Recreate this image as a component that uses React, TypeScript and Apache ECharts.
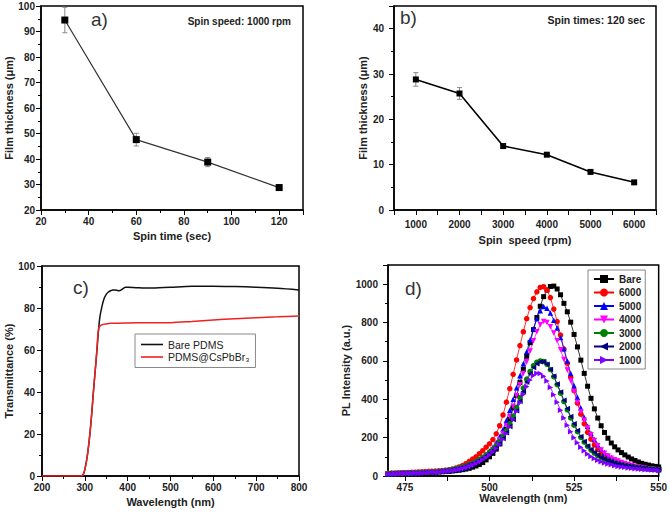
import React, { useEffect, useRef } from "react";
import * as echarts from "echarts";

// Panel a: spin time vs thickness (1000 rpm)
const spinTime = [30, 60, 90, 120];
const thickA = [94.5, 47.6, 38.8, 28.8];
const errA = [5, 2.5, 1.8, 1.0];

// Panel b: spin speed vs thickness (120 s)
const spinSpeed = [1000, 2000, 3000, 4000, 5000, 6000];
const thickB = [28.8, 25.7, 14.1, 12.2, 8.4, 6.1];
const errB = [1.5, 1.3, 0.5, 0.3, 0.2, 0.2];

// Panel c: transmittance
const wlBare = [200, 250, 290, 295, 298, 300, 305, 310, 315, 320, 325, 328, 331, 335, 340, 345, 350, 355, 360, 365, 370, 375, 380, 385, 390, 395, 400, 420, 450, 500, 550, 600, 650, 700, 750, 800];
const tBare = [0, 0, 0, 0.3, 1.5, 3, 8.5, 16.5, 27, 40, 52, 59, 67, 75.5, 80.8, 84.5, 86.5, 87.6, 88.2, 88.6, 88.6, 88.4, 88.2, 88.6, 89.4, 89.9, 89.9, 89.7, 89.5, 89.9, 90.3, 90.4, 90.2, 89.9, 89.4, 88.6];
const wlPqd = [200, 250, 290, 295, 298, 300, 305, 310, 315, 320, 325, 328, 331, 333, 336, 340, 350, 360, 400, 450, 500, 550, 600, 650, 700, 750, 800];
const tPqd = [0, 0, 0, 0.3, 1.5, 3, 8.5, 16.5, 27, 40, 52, 60, 68.5, 70.8, 71.5, 72, 72.4, 72.7, 72.9, 73, 73, 73.6, 74.3, 74.9, 75.4, 75.8, 76.2];

// Panel d: PL spectra
const wlPL = [
  470, 471, 472, 473, 474, 475, 476, 477, 478, 479,
  480, 481, 482, 483, 484, 485, 486, 487, 488, 489,
  490, 491, 492, 493, 494, 495, 496, 497, 498, 499,
  500, 501, 502, 503, 504, 505, 506, 507, 508, 509,
  510, 511, 512, 513, 514, 515, 516, 517, 518, 519,
  520, 521, 522, 523, 524, 525, 526, 527, 528, 529,
  530, 531, 532, 533, 534, 535, 536, 537, 538, 539,
  540, 541, 542, 543, 544, 545, 546, 547, 548, 549, 550,
];
const plBare = [
  12, 12, 13, 13, 14, 14, 15, 15, 15, 16,
  16, 17, 18, 19, 20, 21, 22, 23, 24, 26,
  28, 30, 33, 36, 40, 46, 52, 60, 70, 84,
  100, 118, 140, 167, 203, 243, 295, 355, 420, 487,
  555, 625, 695, 763, 826, 885, 935, 970, 988, 990,
  975, 945, 900, 856, 802, 738, 673, 604, 535, 468,
  405, 350, 302, 262, 227, 197, 172, 152, 136, 122,
  110, 99, 89, 81, 73, 66, 61, 57, 53, 50, 47,
];
const pl6000 = [
  14, 15, 15, 16, 17, 17, 18, 19, 20, 21,
  22, 23, 24, 25, 26, 27, 28, 30, 32, 36,
  41, 47, 54, 64, 76, 88, 100, 116, 132, 150,
  168, 190, 220, 262, 318, 385, 455, 530, 605, 680,
  752, 820, 878, 925, 960, 983, 987, 968, 930, 870,
  805, 735, 662, 588, 515, 445, 380, 322, 272, 228,
  192, 162, 138, 118, 106, 96, 88, 80, 73, 67,
  62, 57, 53, 49, 46, 43, 40, 38, 36, 34, 32,
];
const pl5000 = [
  12, 13, 13, 14, 14, 15, 15, 16, 17, 17,
  18, 19, 20, 21, 22, 23, 25, 27, 29, 31,
  34, 37, 41, 47, 54, 62, 72, 83, 97, 112,
  130, 150, 175, 205, 243, 290, 343, 400, 460, 522,
  585, 648, 710, 768, 820, 862, 884, 875, 850, 812,
  772, 722, 663, 600, 535, 470, 410, 355, 305, 260,
  222, 190, 163, 140, 122, 108, 96, 86, 78, 71,
  65, 60, 55, 51, 48, 45, 42, 40, 37, 35, 33,
];
const pl4000 = [
  12, 12, 13, 13, 14, 14, 15, 15, 16, 16,
  17, 18, 19, 20, 21, 22, 23, 25, 27, 29,
  32, 35, 39, 44, 50, 57, 66, 76, 88, 102,
  118, 137, 160, 188, 222, 263, 310, 362, 418, 476,
  535, 595, 652, 705, 752, 788, 805, 800, 778, 745,
  705, 658, 607, 552, 496, 440, 385, 335, 290, 250,
  215, 185, 158, 136, 118, 104, 93, 85, 78, 71,
  65, 60, 55, 51, 47, 44, 41, 38, 36, 34, 32,
];
const pl3000 = [
  13, 13, 13, 14, 14, 15, 15, 16, 16, 17,
  18, 19, 20, 21, 22, 24, 26, 28, 31, 34,
  38, 42, 47, 53, 60, 67, 76, 86, 97, 110,
  124, 140, 158, 180, 206, 237, 272, 312, 358, 408,
  458, 505, 545, 575, 593, 600, 597, 582, 555, 518,
  476, 432, 388, 345, 303, 265, 231, 201, 176, 154,
  135, 119, 106, 95, 86, 79, 73, 67, 62, 58,
  54, 51, 48, 45, 43, 41, 39, 37, 36, 34, 33,
];
const pl2000 = [
  12, 12, 13, 13, 14, 14, 15, 15, 16, 16,
  17, 18, 19, 20, 21, 23, 25, 27, 30, 33,
  37, 41, 46, 52, 58, 65, 73, 82, 93, 105,
  118, 133, 150, 170, 195, 225, 258, 295, 340, 390,
  440, 490, 533, 565, 585, 595, 595, 582, 555, 520,
  480, 438, 395, 352, 310, 272, 237, 206, 180, 157,
  138, 122, 108, 97, 88, 80, 74, 68, 63, 59,
  55, 52, 49, 46, 44, 42, 40, 38, 36, 35, 34,
];
const pl1000 = [
  11, 11, 12, 12, 13, 13, 14, 14, 15, 15,
  16, 17, 18, 19, 20, 21, 23, 25, 27, 30,
  33, 37, 41, 46, 52, 58, 66, 75, 85, 97,
  110, 125, 143, 165, 192, 222, 257, 296, 338, 382,
  425, 465, 500, 524, 536, 534, 520, 495, 462, 424,
  384, 343, 303, 265, 231, 200, 173, 150, 131, 115,
  102, 91, 82, 74, 68, 63, 58, 54, 50, 47,
  45, 42, 40, 38, 36, 35, 33, 32, 31, 30, 29,
];

const plNames = ["Bare", "6000", "5000", "4000", "3000", "2000", "1000"];
const plData = [plBare, pl6000, pl5000, pl4000, pl3000, pl2000, pl1000];
const plColors = ["#000000", "#ff0000", "#0000ff", "#ff00ff", "#008000", "#000080", "#8000ff"];
const plSymbols = [
  "rect",
  "circle",
  "triangle",
  "path://M0,0 L10,0 L5,10 Z",
  "circle",
  "path://M10,0 L10,10 L0,5 Z",
  "path://M0,0 L10,5 L0,10 Z",
];

const FONT = "Liberation Sans, Arial, sans-serif";
const LINE_ICON = "path://M0,0 L22,0 L22,1.6 L0,1.6 Z";

function pairs(xs: number[], ys: number[]) {
  return xs.map((x, i) => [x, ys[i]]);
}

function errData(xs: number[], ys: number[], es: number[]) {
  return xs.map((x, i) => [x, ys[i] - es[i], ys[i] + es[i]]);
}

function errorRender(params: any, api: any) {
  const x = api.value(0);
  const lo = api.coord([x, api.value(1)]);
  const hi = api.coord([x, api.value(2)]);
  const cw = 2.5;
  const st = { stroke: "#8a8a8a", lineWidth: 1 };
  return {
    type: "group",
    children: [
      { type: "line", shape: { x1: lo[0], y1: lo[1], x2: hi[0], y2: hi[1] }, style: st },
      { type: "line", shape: { x1: lo[0] - cw, y1: lo[1], x2: lo[0] + cw, y2: lo[1] }, style: st },
      { type: "line", shape: { x1: hi[0] - cw, y1: hi[1], x2: hi[0] + cw, y2: hi[1] }, style: st },
    ],
  };
}

const fmt = (v: number) => String(v);

function label(margin: number, extra: any = {}) {
  return { fontFamily: FONT, fontWeight: "bold", fontSize: 10, color: "#222", margin, formatter: fmt, ...extra };
}

function axisBase(gridIndex: number, name: string, nameGap: number, labelMargin: number, extra: any) {
  return {
    type: "value",
    gridIndex,
    name,
    nameLocation: "middle",
    nameGap,
    nameTextStyle: { fontFamily: FONT, fontWeight: "bold", fontSize: 11, color: "#222" },
    axisLine: { show: true, onZero: false, lineStyle: { color: "#000", width: 1.5 } },
    axisTick: { show: true, inside: false, length: 5, lineStyle: { color: "#000", width: 1 } },
    minorTick: { show: true, splitNumber: 2, length: 3, lineStyle: { color: "#000", width: 1 } },
    splitLine: { show: false },
    axisLabel: label(labelMargin),
    ...extra,
  };
}

export default function App() {
  const ref = useRef<HTMLDivElement>(null);
  useEffect(() => {
    if (!ref.current) return;
    const chart = echarts.init(ref.current, null, { renderer: "svg" });
    const gridStyle = { show: true, borderColor: "#000", borderWidth: 1.5, backgroundColor: "#fff", containLabel: false };
    const option: any = {
      animation: false,
      backgroundColor: "#fff",
      grid: [
        { left: 41, top: 6, width: 262, height: 204, ...gridStyle },
        { left: 394, top: 6, width: 262, height: 204, ...gridStyle },
        { left: 42, top: 266, width: 257, height: 210, ...gridStyle },
        { left: 388, top: 265, width: 272, height: 211, ...gridStyle },
      ],
      xAxis: [
        axisBase(0, "Spin time (sec)", 20, 5, {
          min: 20, max: 130, interval: 20,
          axisLabel: label(6, { showMaxLabel: false }),
        }),
        axisBase(1, "Spin  speed (rpm)", 24, 9, {
          min: 500, max: 6500,
          axisLabel: label(9, { customValues: spinSpeed }),
          axisTick: { show: true, length: 5, lineStyle: { color: "#000" }, customValues: [500, 1000, 1500, 2000, 2500, 3000, 3500, 4000, 4500, 5000, 5500, 6000, 6500] },
          minorTick: { show: false },
        }),
        axisBase(2, "Wavelength (nm)", 20, 6, { min: 200, max: 800, interval: 100 }),
        axisBase(3, "Wavelength (nm)", 15, 6, {
          min: 470, max: 550,
          axisLabel: label(6, { customValues: [475, 500, 525, 550] }),
          axisTick: { show: true, length: 5, lineStyle: { color: "#000" }, customValues: [475, 487.5, 500, 512.5, 525, 537.5, 550] },
          minorTick: { show: false },
        }),
      ],
      yAxis: [
        axisBase(0, "Film thickness (μm)", 24, 6, { min: 20, max: 100, interval: 10 }),
        axisBase(1, "Film thickness (μm)", 22, 10, {
          min: 0, max: 45, interval: 10,
          axisLabel: label(10, { showMaxLabel: false }),
        }),
        axisBase(2, "Transmittance (%)", 24, 7, { min: 0, max: 100, interval: 20 }),
        axisBase(3, "PL Intensity (a.u.)", 30, 10, {
          min: 0, max: 1100, interval: 200,
          axisLabel: label(10, { showMaxLabel: false }),
        }),
      ],
      legend: [
        {
          data: [
            { name: "Bare PDMS", icon: LINE_ICON },
            { name: "PDMS@CsPbBr₃", icon: LINE_ICON },
          ],
          orient: "vertical",
          left: 135,
          top: 334,
          padding: [5, 6, 5, 6],
          itemGap: 1.5,
          itemWidth: 22,
          itemHeight: 10,
          borderColor: "#888",
          borderWidth: 1,
          backgroundColor: "#fff",
          textStyle: { fontFamily: FONT, fontSize: 10.5, color: "#222" },
        },
        {
          data: plNames,
          orient: "vertical",
          left: 588,
          top: 270,
          padding: [4, 4, 4, 5],
          itemGap: 3.5,
          itemWidth: 20,
          itemHeight: 10,
          borderColor: "#888",
          borderWidth: 1,
          backgroundColor: "#fff",
          textStyle: { fontFamily: FONT, fontSize: 10, fontWeight: "bold", color: "#222" },
        },
      ],
      series: [
        {
          name: "a",
          type: "line",
          xAxisIndex: 0,
          yAxisIndex: 0,
          data: pairs(spinTime, thickA),
          symbol: "rect",
          symbolSize: 7,
          lineStyle: { color: "#333", width: 1.2 },
          itemStyle: { color: "#000" },
          z: 3,
        },
        {
          name: "aErr",
          type: "custom",
          xAxisIndex: 0,
          yAxisIndex: 0,
          data: errData(spinTime, thickA, errA),
          encode: { x: 0, y: [1, 2] },
          renderItem: errorRender,
          z: 2,
        },
        {
          name: "b",
          type: "line",
          xAxisIndex: 1,
          yAxisIndex: 1,
          data: pairs(spinSpeed, thickB),
          symbol: "rect",
          symbolSize: 6,
          lineStyle: { color: "#000", width: 1.6 },
          itemStyle: { color: "#000" },
          z: 3,
        },
        {
          name: "bErr",
          type: "custom",
          xAxisIndex: 1,
          yAxisIndex: 1,
          data: errData(spinSpeed, thickB, errB),
          encode: { x: 0, y: [1, 2] },
          renderItem: errorRender,
          z: 2,
        },
        {
          name: "Bare PDMS",
          type: "line",
          xAxisIndex: 2,
          yAxisIndex: 2,
          data: pairs(wlBare, tBare),
          symbol: "none",
          smooth: 0.3,
          lineStyle: { color: "#111", width: 1.5 },
          itemStyle: { color: "#111" },
        },
        {
          name: "PDMS@CsPbBr₃",
          type: "line",
          xAxisIndex: 2,
          yAxisIndex: 2,
          data: pairs(wlPqd, tPqd),
          symbol: "none",
          smooth: 0.3,
          lineStyle: { color: "#ee2222", width: 1.5 },
          itemStyle: { color: "#ee2222" },
        },
        ...plNames.map((n, i) => ({
          name: n,
          type: "line",
          xAxisIndex: 3,
          yAxisIndex: 3,
          data: pairs(wlPL, plData[i]),
          symbol: plSymbols[i],
          symbolSize: i === 0 ? 5 : 5.5,
          showAllSymbol: true,
          lineStyle: { color: plColors[i], width: 0.8 },
          itemStyle: { color: plColors[i] },
        })),
      ],
      graphic: [
        { type: "text", left: 91, top: 10, style: { text: "a)", font: `19px ${FONT}`, fill: "#333" } },
        { type: "text", left: 400, top: 8, style: { text: "b)", font: `19px ${FONT}`, fill: "#333" } },
        { type: "text", left: 73, top: 278, style: { text: "c)", font: `19px ${FONT}`, fill: "#333" } },
        { type: "text", left: 405, top: 279, style: { text: "d)", font: `19px ${FONT}`, fill: "#333" } },
        { type: "text", right: 670 - 291, top: 16, style: { text: "Spin speed: 1000 rpm", font: `bold 10px ${FONT}`, fill: "#222" } },
        { type: "text", right: 670 - 645, top: 14, style: { text: "Spin times: 120 sec", font: `bold 10.5px ${FONT}`, fill: "#222" } },
      ],
    };
    chart.setOption(option);
    return () => chart.dispose();
  }, []);
  return (
    <div
      ref={ref}
      style={{ position: "fixed", left: 0, top: 0, width: 670, height: 516, background: "#fff" }}
    />
  );
}
